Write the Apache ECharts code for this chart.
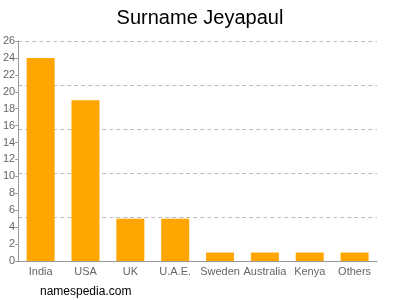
<!DOCTYPE html>
<html><head><meta charset="utf-8">
<script src="https://cdn.jsdelivr.net/npm/echarts@6/dist/echarts.min.js"></script>
<style>html,body{margin:0;padding:0;background:#fff}#c{width:400px;height:300px}</style>
</head><body><div id="c"></div>
<script>
const categories = ["India","USA","UK","U.A.E.","Sweden","Australia","Kenya","Others"];
const values = [24,19,5,5,1,1,1,1];
const yMax = 26;
const labelStep = 2;
const gridStep = 5.2;

const chart = echarts.init(document.getElementById('c'), null, {renderer:'canvas'});
chart.setOption({
  animation:false,
  backgroundColor:'#fff',
  title:{text:'Surname Jeyapaul', left:'center', top:3,
    textStyle:{fontFamily:'Liberation Sans, Arial, sans-serif', fontSize:20, fontWeight:'normal', color:'#000'}},
  graphic:[{type:'text', left:40, top:286, style:{text:'namespedia.com', fontFamily:'Liberation Sans, Arial, sans-serif', fontSize:12, fill:'#000'}}],
  grid:{left:18, right:23, top:41, bottom:39, containLabel:false},
  xAxis:{type:'category', data:categories,
    axisLine:{lineStyle:{color:'#999'}},
    axisTick:{alignWithLabel:true, length:4, lineStyle:{color:'#999'}},
    axisLabel:{color:'#666', fontSize:11, fontFamily:'Liberation Sans, Arial, sans-serif', margin:5, interval:0}},
  yAxis:[{type:'value', min:0, max:yMax, interval:labelStep,
    axisLine:{show:true, lineStyle:{color:'#999'}},
    axisTick:{show:true, length:3, lineStyle:{color:'#999'}},
    axisLabel:{color:'#666', fontSize:11, fontFamily:'Liberation Sans, Arial, sans-serif', margin:3},
    splitLine:{show:false}},
   {type:'value', min:0, max:yMax, interval:gridStep, position:'left',
    axisLine:{show:false}, axisTick:{show:false}, axisLabel:{show:false},
    splitLine:{show:true, lineStyle:{color:'#bbb', type:[4,3]}}}],
  series:[{type:'bar', data:values, barWidth:28, yAxisIndex:0,
    itemStyle:{color:'#FFA500'}}]
});
</script></body></html>
